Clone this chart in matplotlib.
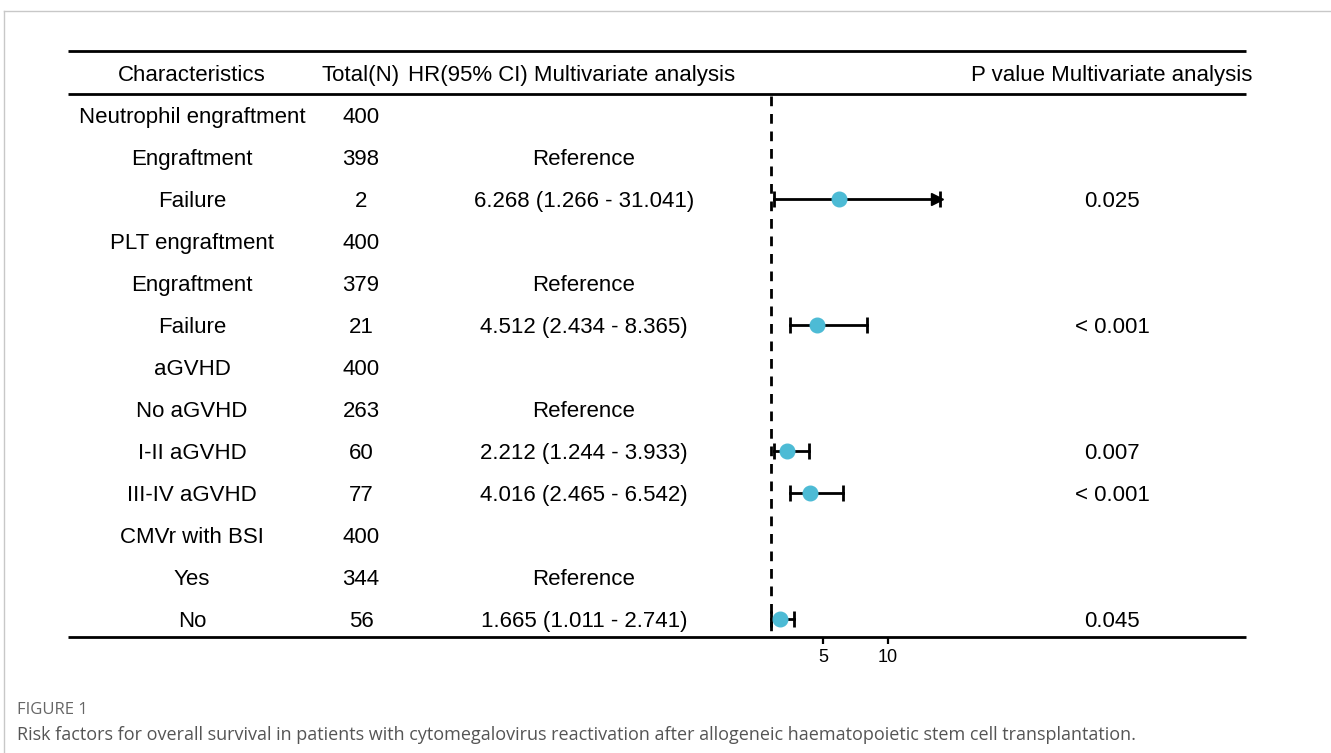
import numpy as np
import matplotlib
matplotlib.use("Agg")
import matplotlib.pyplot as plt

# table data
characteristics = ["Neutrophil engraftment", "Engraftment", "Failure",
                   "PLT engraftment", "Engraftment", "Failure",
                   "aGVHD", "No aGVHD", "I-II aGVHD", "III-IV aGVHD",
                   "CMVr with BSI", "Yes", "No"]
totals = [400, 398, 2, 400, 379, 21, 400, 263, 60, 77, 400, 344, 56]
# None = group header row, "ref" = reference level
hr = [None, "ref", 6.268, None, "ref", 4.512, None, "ref", 2.212, 4.016, None, "ref", 1.665]
lower = [None, None, 1.266, None, None, 2.434, None, None, 1.244, 2.465, None, None, 1.011]
upper = [None, None, 31.041, None, None, 8.365, None, None, 3.933, 6.542, None, None, 2.741]
pvalues = ["", "", "0.025", "", "", "< 0.001", "", "", "0.007", "< 0.001", "", "", "0.045"]
x_ticks = [5, 10]
x_clip = 14   # upper limit of the drawn CI, arrow beyond

W, H = 1331, 753
FONT = "Liberation Sans"
DOT = "#4DBBD5"

def fx(px):
    return px / W

def fy(py):
    return 1 - py / H

fig = plt.figure(figsize=(W / 100, H / 100), dpi=100)

# page frame
fig.add_artist(plt.Line2D([fx(4), 1], [fy(11), fy(11)], color="#c8c8c8", lw=1))
fig.add_artist(plt.Line2D([fx(4), fx(4)], [fy(11), 0], color="#c8c8c8", lw=1))

n = len(characteristics)
y_top = (51 - 115) / 42
y_bot = (637 - 115) / 42
y_head = (94 - 115) / 42
dy = 0.05  # small text nudge downwards

ax = fig.add_axes([fx(68), fy(637), fx(1246) - fx(68), fy(51) - fy(637)])
ax.set_xlim(68, 1246)
ax.set_ylim(y_bot, y_top)
ax.axis("off")
for yy in [y_top, y_head, y_bot]:
    ax.plot([68, 1246], [yy, yy], color="black", lw=2, solid_capstyle="butt", clip_on=False)

fs = 16
headers = [(192, "Characteristics"), (361, "Total(N)"),
           (572, "HR(95% CI) Multivariate analysis"), (1112, "P value Multivariate analysis")]
for xp, t in headers:
    ax.text(xp, -1 + dy, t, ha="center", va="center", fontsize=fs, family=FONT)

for i in range(n):
    ax.text(192, i + dy, characteristics[i], ha="center", va="center", fontsize=fs, family=FONT)
    ax.text(361, i + dy, str(totals[i]), ha="center", va="center", fontsize=fs, family=FONT)
    if hr[i] == "ref":
        txt = "Reference"
    elif hr[i] is None:
        txt = ""
    else:
        txt = "%.3f (%.3f - %.3f)" % (hr[i], lower[i], upper[i])
    ax.text(584, i + dy, txt, ha="center", va="center", fontsize=fs, family=FONT)
    ax.text(1112, i + dy, pvalues[i], ha="center", va="center", fontsize=fs, family=FONT)

# forest panel
fax = fig.add_axes([fx(760), fy(637), fx(960) - fx(760), fy(51) - fy(637)])
fax.set_ylim(y_bot, y_top)
fax.set_xlim(1 - 11 / 13, 1 + 189 / 13)
fax.patch.set_alpha(0)
for s in fax.spines.values():
    s.set_visible(False)
fax.set_yticks([])
fax.set_xticks(x_ticks)
fax.set_xticklabels([str(t) for t in x_ticks], family=FONT, fontsize=13)
fax.tick_params(axis="x", length=5, width=1.6, pad=4)

fax.vlines(1, y_head + 0.05, y_bot, color="black", lw=2, linestyles=(0, (3.5, 2.8)))

for i in range(n):
    if hr[i] is None or hr[i] == "ref":
        continue
    lo, hi = lower[i], upper[i]
    clipped = hi > x_clip
    hi_d = min(hi, x_clip)
    fax.plot([lo, hi_d], [i, i], color="black", lw=2, zorder=2)
    fax.plot([lo], [i], marker="|", ms=11, mew=2, color="black", zorder=2)
    fax.plot([hi_d], [i], marker="|", ms=11, mew=2, color="black", zorder=2)
    if clipped:
        fax.plot([hi_d - 0.2], [i], marker=">", ms=8, color="black", zorder=2)
    fax.plot([hr[i]], [i], marker="o", ms=10.5, color=DOT, mec=DOT, zorder=3)

# caption
fig.text(fx(17), fy(710), "FIGURE 1", fontsize=12, color="#666666", family="Open Sans",
         va="center", ha="left")
fig.text(fx(17), fy(735),
         "Risk factors for overall survival in patients with cytomegalovirus reactivation "
         "after allogeneic haematopoietic stem cell transplantation.",
         fontsize=13, color="#555555", family="Open Sans", va="center", ha="left")

fig.savefig("out.png", dpi=100)
